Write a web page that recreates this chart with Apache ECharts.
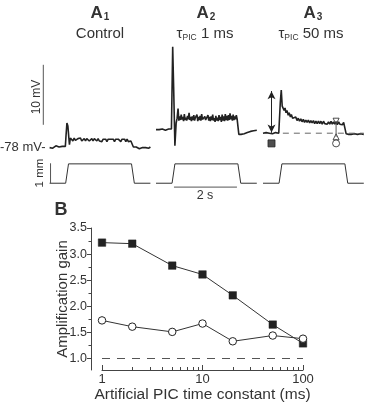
<!DOCTYPE html>
<html>
<head>
<meta charset="utf-8">
<script src="https://cdn.jsdelivr.net/npm/echarts@6/dist/echarts.min.js"></script>
<style>
  html, body { margin: 0; padding: 0; background: #fff; }
  #chart { width: 365px; height: 404px; }
</style>
</head>
<body>
<div id="chart"></div>
<script>
// A: membrane potential traces, [time (s), mV]
const a1Trace = [
  [0, -78.1], [0.05, -77.9], [0.1, -78.2], [0.15, -78.0], [0.2, -77.8], [0.25, -78.1], [0.3, -78.0], [0.35, -78.2], [0.4, -77.9], [0.45, -78.1], [0.5, -77.9],
  [0.52, -76.2], [0.55, -74.0], [0.58, -74.5], [0.61, -76.4], [0.63, -77.6], [0.66, -76.5],
  [0.7, -76.5], [0.74, -77.0], [0.78, -76.5], [0.82, -76.9], [0.86, -77.0], [0.9, -76.6], [0.94, -76.9], [0.98, -76.5], [1.02, -77.0], [1.06, -76.7],
  [1.1, -76.6], [1.14, -77.0], [1.18, -76.6], [1.22, -76.7], [1.26, -77.0], [1.3, -76.7], [1.34, -76.6], [1.38, -77.0], [1.42, -76.6], [1.46, -76.9],
  [1.5, -77.0], [1.54, -76.6], [1.58, -77.0], [1.62, -76.7], [1.66, -77.1], [1.7, -76.7], [1.74, -77.0], [1.78, -76.7], [1.82, -77.1], [1.86, -76.7],
  [1.9, -77.0], [1.94, -76.7], [1.98, -77.0], [2.02, -76.7], [2.06, -77.1], [2.1, -76.7], [2.14, -77.0], [2.18, -76.7], [2.22, -77.0], [2.26, -77.1],
  [2.3, -76.7], [2.34, -77.0], [2.38, -76.7], [2.42, -77.1], [2.46, -76.7], [2.5, -77.1], [2.54, -76.8], [2.58, -77.0], [2.61, -77.0],
  [2.66, -78.0], [2.7, -78.3], [2.75, -78.0], [2.8, -78.2], [2.85, -78.3], [2.9, -78.0], [2.95, -78.1], [3.0, -78.3], [3.05, -78.1], [3.1, -77.9], [3.15, -78.2], [3.2, -78.0]
];
const a2Trace = [
  [0, -75.1], [0.05, -74.9], [0.1, -75.1], [0.15, -75.3], [0.2, -75.0], [0.25, -74.9], [0.3, -75.2], [0.35, -75.3], [0.4, -75.0], [0.45, -75.2], [0.49, -75.0],
  [0.53, -61.3], [0.56, -68.0], [0.6, -77.8], [0.64, -74.0], [0.67, -73.2],
  [0.7, -71.6], [0.725, -73.6], [0.75, -72.9], [0.775, -73.5], [0.8, -72.6], [0.825, -73.4], [0.85, -73.0], [0.875, -73.7], [0.9, -72.5], [0.925, -73.5],
  [0.95, -73.1], [0.975, -73.6], [1.0, -72.8], [1.025, -73.4], [1.05, -72.3], [1.075, -73.5], [1.1, -73.0], [1.125, -73.7], [1.15, -72.9], [1.175, -73.5],
  [1.2, -72.7], [1.225, -73.6], [1.25, -73.1], [1.275, -73.4], [1.3, -72.6], [1.325, -73.7], [1.35, -73.0], [1.375, -73.5], [1.4, -72.8], [1.425, -73.6],
  [1.45, -72.5], [1.475, -73.4], [1.5, -73.1], [1.525, -73.7], [1.55, -72.9], [1.575, -73.5], [1.6, -73.2], [1.625, -73.8], [1.65, -72.7], [1.675, -73.6],
  [1.7, -73.0], [1.725, -73.7], [1.75, -72.9], [1.775, -73.5], [1.8, -72.6], [1.825, -73.6], [1.85, -73.2], [1.875, -73.8], [1.9, -72.8], [1.925, -73.6],
  [1.95, -73.1], [1.975, -73.7], [2.0, -72.7], [2.025, -73.5], [2.05, -73.0], [2.075, -73.8], [2.1, -72.6], [2.125, -73.6], [2.15, -72.9], [2.175, -73.7],
  [2.2, -72.5], [2.225, -73.5], [2.25, -72.8], [2.275, -73.6], [2.3, -72.7], [2.325, -73.5], [2.35, -72.4], [2.375, -73.4], [2.4, -72.8], [2.425, -73.6],
  [2.45, -72.6], [2.475, -73.5], [2.5, -72.9], [2.525, -73.4], [2.55, -72.7], [2.575, -73.3], [2.6, -73.0],
  [2.63, -75.9], [2.67, -76.2], [2.7, -75.9], [2.75, -76.1], [2.8, -75.8], [2.85, -75.9], [2.9, -75.6], [2.95, -75.7], [3.0, -75.4], [3.05, -75.6], [3.1, -75.3], [3.15, -75.4], [3.2, -75.2]
];
const a3Trace = [
  [0, -75.7], [0.05, -75.9], [0.1, -75.6], [0.15, -75.9], [0.2, -75.7], [0.25, -75.6], [0.3, -75.8], [0.35, -75.9], [0.4, -75.6], [0.45, -75.8], [0.5, -75.7],
  [0.55, -70.5], [0.58, -68.5], [0.61, -71.2], [0.64, -70.9], [0.67, -71.9], [0.7, -71.5], [0.73, -72.3], [0.76, -71.9], [0.8, -72.7], [0.83, -72.3],
  [0.87, -73.0], [0.9, -72.6], [0.94, -73.2], [0.97, -72.9], [1.0, -73.4], [1.04, -73.0], [1.08, -73.6], [1.12, -73.2], [1.16, -73.7], [1.2, -73.3],
  [1.24, -73.8], [1.28, -73.4], [1.32, -73.9], [1.36, -73.5], [1.4, -73.9], [1.44, -73.5], [1.48, -74.0], [1.52, -73.6], [1.56, -74.0], [1.6, -73.6],
  [1.64, -74.1], [1.68, -73.7], [1.72, -74.1], [1.76, -73.7], [1.8, -74.1], [1.84, -73.7], [1.88, -74.2], [1.92, -73.7], [1.96, -74.1], [2.0, -73.8],
  [2.04, -74.2], [2.08, -73.8], [2.12, -74.2], [2.16, -73.7], [2.2, -74.2], [2.24, -73.8], [2.28, -74.2], [2.32, -73.8], [2.36, -74.3], [2.4, -73.8],
  [2.44, -74.2], [2.48, -73.9], [2.52, -74.3], [2.56, -73.9], [2.6, -74.2],
  [2.64, -75.8], [2.68, -76.1], [2.72, -75.9], [2.76, -76.2], [2.8, -75.9], [2.85, -76.1], [2.9, -75.8], [2.95, -76.1], [3.0, -75.9], [3.05, -76.2], [3.1, -75.8], [3.15, -76.0], [3.2, -75.9]
];
// motor stretch command (mm)
const stimTrace = [[0, 0], [0.51, 0], [0.6, 1], [2.6, 1], [2.69, 0], [3.2, 0]];

// A3 annotations
const a3Baseline = [[0.63, -75.7], [3.2, -75.7]];
const a3PeakArrow = [[0.27, -75.6], [0.27, -68.7]];
const a3SquareMark = [[0.27, -77.4]];
const a3TriDown = [[2.32, -73.7]];
const a3TriUp = [[2.32, -76.3]];
const a3Circle = [[2.32, -77.4]];

// scale bars
const mvBar = [[-0.2, -74.3], [-0.2, -64.3]];   // 10 mV
const mmBar = [[0.03, 0], [0.03, 1.03]];         // 1 mm
const secBar = [[0.57, -0.2], [2.57, -0.2]];     // 2 s

// B: amplification gain vs artificial PIC time constant
const tauValues = [1, 2, 5, 10, 20, 50, 100];
const gainSquare = [3.22, 3.20, 2.78, 2.61, 2.21, 1.65, 1.29];
const gainCircle = [1.73, 1.61, 1.51, 1.67, 1.33, 1.44, 1.38];
const gainTicks = [1.0, 1.5, 2.0, 2.5, 3.0, 3.5];
const gainMinorTicks = [1.25, 1.75, 2.25, 2.75, 3.25];
const tauMajorTicks = [1, 10, 100];
const tauMinorTicks = [2, 3, 4, 5, 6, 7, 8, 9, 20, 30, 40, 50, 60, 70, 80, 90];

const FONT = "'Liberation Sans', Arial, sans-serif";
const INK = '#222';
const TXT = '#333';
const AX = '#444';

const chart = echarts.init(document.getElementById('chart'), null, { renderer: 'canvas' });

const vTop = 39, vHeight = 120;
const sTop = 160, sHeight = 30;
const gridPos = [
  { left: 37, width: 113.4 },
  { left: 156, width: 100.8 },
  { left: 263, width: 100.8 }
];

const grids = [];
gridPos.forEach(p => grids.push({ left: p.left, width: p.width, top: vTop, height: vHeight }));
gridPos.forEach(p => grids.push({ left: p.left, width: p.width, top: sTop, height: sHeight }));
grids.push({ left: 102, width: 201, top: 228, height: 146 });

const xAxes = [];
const yAxes = [];
for (let i = 0; i < 6; i++) {
  xAxes.push({ type: 'value', gridIndex: i, min: i % 3 === 0 ? -0.4 : 0, max: 3.2, show: false });
  yAxes.push(i < 3
    ? { type: 'value', gridIndex: i, min: -80, max: -60, show: false }
    : { type: 'value', gridIndex: i, min: -0.35, max: 1.2, show: false });
}
// panel B axes (index 6 = main, 7 = minor ticks only)
xAxes.push({
  type: 'log', gridIndex: 6, logBase: 10, min: 1, max: 100, position: 'bottom',
  name: 'Artificial PIC time constant (ms)', nameLocation: 'middle', nameGap: 17, nameMoveOverlap: false,
  nameTextStyle: { fontFamily: FONT, fontSize: 15.5, color: TXT },
  axisLine: { lineStyle: { color: AX, width: 1 } },
  axisTick: { inside: true, length: 5, customValues: tauMajorTicks, lineStyle: { color: AX } },
  axisLabel: { customValues: tauMajorTicks, fontFamily: FONT, fontSize: 13, color: TXT, margin: 3 },
  splitLine: { show: false }
});
xAxes.push({
  type: 'log', gridIndex: 6, logBase: 10, min: 1, max: 100, position: 'bottom',
  axisLine: { show: false },
  axisTick: { inside: true, length: 3, customValues: tauMinorTicks, lineStyle: { color: AX } },
  axisLabel: { show: false },
  splitLine: { show: false }
});
yAxes.push({
  type: 'value', gridIndex: 6, min: 0.78, max: 3.5, offset: 11, position: 'left',
  name: 'Amplification gain', nameLocation: 'middle', nameGap: 21, nameMoveOverlap: false,
  nameTextStyle: { fontFamily: FONT, fontSize: 15, color: TXT },
  axisLine: { show: true, lineStyle: { color: AX, width: 1 } },
  axisTick: { show: true, length: 4, customValues: gainTicks, lineStyle: { color: AX } },
  axisLabel: { customValues: gainTicks, formatter: v => v.toFixed(1), fontFamily: FONT, fontSize: 12.5, color: TXT, margin: 4 },
  splitLine: { show: false }
});
yAxes.push({
  type: 'value', gridIndex: 6, min: 0.78, max: 3.5, offset: 11, position: 'left',
  axisLine: { show: false },
  axisTick: { show: true, length: 2.5, customValues: gainMinorTicks, lineStyle: { color: AX } },
  axisLabel: { show: false },
  splitLine: { show: false }
});

function trace(data, idx, extra) {
  return Object.assign({
    type: 'line', xAxisIndex: idx, yAxisIndex: idx, data: data,
    showSymbol: false, symbol: 'none', silent: true,
    lineStyle: { color: INK, width: 1.6 }
  }, extra || {});
}
function mark(data, idx, symbol, size, fill, rotate) {
  return {
    type: 'scatter', xAxisIndex: idx, yAxisIndex: idx, data: data, silent: true,
    symbol: symbol, symbolSize: size, symbolRotate: rotate || 0,
    itemStyle: { color: fill, borderColor: INK, borderWidth: 1 }
  };
}

const series = [
  trace(a1Trace, 0),
  trace(a2Trace, 1),
  trace(a3Trace, 2),
  trace(stimTrace, 3, { lineStyle: { color: '#333', width: 1 } }),
  trace(stimTrace, 4, { lineStyle: { color: '#333', width: 1 } }),
  trace(stimTrace, 5, { lineStyle: { color: '#333', width: 1 } }),
  trace(mvBar, 0, { lineStyle: { color: '#555', width: 1 } }),
  trace(mmBar, 3, { lineStyle: { color: '#555', width: 1 } }),
  trace(secBar, 4, { lineStyle: { color: '#555', width: 1 } }),
  trace(a3Baseline, 2, { lineStyle: { color: '#666', width: 1, type: [6, 5] } }),
  trace(a3PeakArrow, 2, {
    lineStyle: { color: INK, width: 1 },
    markLine: {
      silent: true, symbol: ['arrow', 'arrow'], symbolSize: [6, 8],
      lineStyle: { color: INK, width: 1, type: 'solid' }, label: { show: false },
      data: [[{ coord: a3PeakArrow[0] }, { coord: a3PeakArrow[1] }]]
    }
  }),
  trace([a3TriDown[0], a3TriUp[0]], 2, { lineStyle: { color: '#555', width: 1 } }),
  mark(a3SquareMark, 2, 'rect', 7, INK),
  mark(a3TriDown, 2, 'triangle', 6, '#fff', 180),
  mark(a3TriUp, 2, 'triangle', 6, '#fff'),
  mark(a3Circle, 2, 'circle', 7, '#fff'),
  {
    type: 'line', xAxisIndex: 6, yAxisIndex: 6, silent: true,
    data: tauValues.map((t, i) => [t, gainSquare[i]]),
    symbol: 'rect', symbolSize: 7.5, showSymbol: true,
    lineStyle: { color: '#333', width: 1 },
    itemStyle: { color: INK, borderColor: INK, borderWidth: 0.5 },
    markLine: {
      silent: true, symbol: 'none', label: { show: false },
      lineStyle: { color: '#555', width: 1, type: [8, 7] },
      data: [{ yAxis: 1 }]
    }
  },
  {
    type: 'line', xAxisIndex: 6, yAxisIndex: 6, silent: true,
    data: tauValues.map((t, i) => [t, gainCircle[i]]),
    symbol: 'circle', symbolSize: 7.5, showSymbol: true,
    lineStyle: { color: '#333', width: 1 },
    itemStyle: { color: '#fff', borderColor: INK, borderWidth: 1 }
  }
];

const titleRich = {
  a: { fontFamily: FONT, fontSize: 17, fontWeight: 'bold', color: TXT },
  s: { fontFamily: FONT, fontSize: 10, fontWeight: 'bold', color: TXT, padding: [8, 0, 0, 1] },
  t: { fontFamily: FONT, fontSize: 15, color: TXT },
  p: { fontFamily: FONT, fontSize: 8.5, color: TXT, padding: [7, 0, 0, 0] }
};
function label(text, x, y, style, rotation) {
  return {
    type: 'text', x: x, y: y, rotation: rotation || 0, silent: true,
    style: Object.assign({ text: text, fontFamily: FONT, fill: TXT, align: 'center', verticalAlign: 'middle' }, style)
  };
}

chart.setOption({
  animation: false,
  grid: grids,
  xAxis: xAxes,
  yAxis: yAxes,
  series: series,
  graphic: [
    label('{a|A}{s|1}', 100, 13, { rich: titleRich }),
    label('{a|A}{s|2}', 206, 13, { rich: titleRich }),
    label('{a|A}{s|3}', 313, 13, { rich: titleRich }),
    label('Control', 100, 34, { fontSize: 15 }),
    label('{t|τ}{p|PIC}{t| 1 ms}', 205, 34, { rich: titleRich }),
    label('{t|τ}{p|PIC}{t| 50 ms}', 311, 34, { rich: titleRich }),
    label('10 mV', 37, 97, { fontSize: 12 }, Math.PI / 2),
    label('1 mm', 40, 173, { fontSize: 11.5 }, Math.PI / 2),
    label('-78 mV-', 0, 147, { fontSize: 13, align: 'left' }),
    label('2 s', 205, 196, { fontSize: 12.5 }),
    label('B', 61, 210, { fontSize: 18, fontWeight: 'bold' })
  ]
});
</script>
</body>
</html>
